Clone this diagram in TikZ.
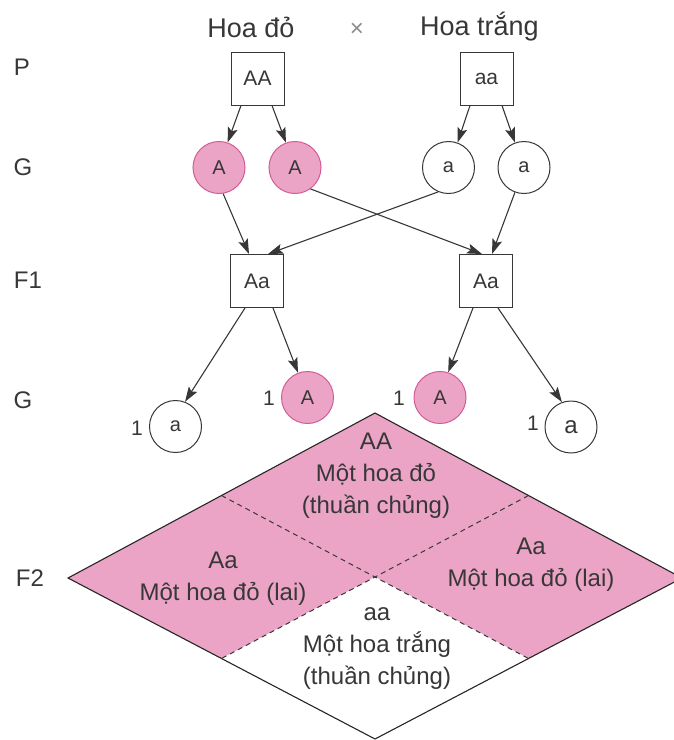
\documentclass[tikz,border=0pt]{standalone}
\usepackage{fontspec}
\setmainfont{Liberation Sans}
\usetikzlibrary{arrows.meta,calc}
\definecolor{pinkfill}{RGB}{236,164,198}
\definecolor{pinkline}{RGB}{212,92,150}
\definecolor{ink}{RGB}{55,55,55}
\begin{document}
\begin{tikzpicture}[x=1pt,y=-1pt,
  every node/.style={text=ink},
  genebox/.style={draw=ink,line width=1pt,minimum width=53pt,minimum height=53pt,inner sep=0pt,font=\fontsize{21}{24}\selectfont},
  pgam/.style={circle,draw=pinkline,fill=pinkfill,line width=1pt,minimum size=52pt,inner sep=0pt,font=\fontsize{20}{24}\selectfont},
  wgam/.style={circle,draw=ink,fill=white,line width=1pt,minimum size=52pt,inner sep=0pt,font=\fontsize{20}{24}\selectfont},
  rowlab/.style={font=\fontsize{24}{28}\selectfont},
  title/.style={font=\fontsize{27}{30}\selectfont},
  ratio/.style={font=\fontsize{21}{24}\selectfont},
  celltext/.style={align=center,font=\fontsize{24}{32}\selectfont},
  arr/.style={draw=ink,line width=1.1pt,-{Stealth[length=15pt,width=10pt,inset=3pt]}},
]
\useasboundingbox (0,0) rectangle (674,740);

% titles
\node[title] (t1) at (251,27) {Hoa đỏ};
\node[font=\fontsize{24}{26}\selectfont,text=black!45] (cross) at (357,30) {×};
\node[title] (t2) at (479.5,27) {Hoa trắng};

% row labels
\node[rowlab] (lP) at (22,67) {P};
\node[rowlab] (lG1) at (23,167) {G};
\node[rowlab] (lF1) at (28,280) {F1};
\node[rowlab] (lG2) at (23,400) {G};
\node[rowlab] (lF2) at (30,578) {F2};

% P
\node[genebox] (AA) at (257.5,78.5) {AA};
\node[genebox] (aa) at (486.5,78.5) {aa};

% G
\node[pgam] (A1) at (219,167.5) {A};
\node[pgam] (A2) at (295,167.5) {A};
\node[wgam] (a1) at (448.5,167.5) {a};
\node[wgam] (a2) at (524,167.5) {a};

% F1
\node[genebox] (F1L) at (257,281) {Aa};
\node[genebox] (F1R) at (486,281) {Aa};

% G (F1 gametes)
\node[wgam] (ga1) at (175.5,426.5) {a};
\node[pgam] (gA1) at (307.5,397.5) {A};
\node[pgam] (gA2) at (440,397.5) {A};
\node[wgam,font=\fontsize{24}{26}\selectfont] (ga2) at (571,427) {a};
\node[ratio] (n1) at (137,428) {1};
\node[ratio] (n2) at (269,398) {1};
\node[ratio] (n3) at (399,398) {1};
\node[ratio] (n4) at (533,423) {1};

% arrows P -> G
\draw[arr] ($(AA.south)+(-16.5,0)$) -- (A1.71);
\draw[arr] ($(AA.south)+(14.5,0)$) -- (A2.110);
\draw[arr] ($(aa.south)+(-16.5,0)$) -- (a1.70);
\draw[arr] ($(aa.south)+(15.5,0)$) -- (a2.110);

% arrows G -> F1
\draw[arr] (A1.279) -- ($(F1L.north)+(-8,0)$);
\draw[arr] (a1.247) -- ($(F1L.north)+(11,0)$);
\draw[arr] (A2.306) -- ($(F1R.north)+(-4,0)$);
\draw[arr] (a2.250) -- ($(F1R.north)+(6,0)$);

% arrows F1 -> G
\draw[arr] ($(F1L.south)+(-12,0)$) -- (ga1.69);
\draw[arr] ($(F1L.south)+(16,0)$) -- (gA1.111);
\draw[arr] ($(F1R.south)+(-13,0)$) -- (gA2.72);
\draw[arr] ($(F1R.south)+(12,0)$) -- (ga2.110);

% F2 diamond
\coordinate (L) at (68,578);
\coordinate (T) at (375,413);
\coordinate (R) at (682,578);
\coordinate (B) at (375,739);
\coordinate (C) at (375,577);
\coordinate (mLT) at ($(L)!0.5!(T)$);
\coordinate (mTR) at ($(T)!0.5!(R)$);
\coordinate (mRB) at ($(R)!0.5!(B)$);
\coordinate (mBL) at ($(B)!0.5!(L)$);
\fill[pinkfill] (L) -- (T) -- (R) -- (B) -- cycle;
\fill[white] (C) -- (mRB) -- (B) -- (mBL) -- cycle;
\draw[ink,line width=1pt,dash pattern=on 5pt off 4pt] (mLT) -- (mRB);
\draw[ink,line width=1pt,dash pattern=on 5pt off 4pt] (mTR) -- (mBL);
\draw[black!85,line width=1.1pt,line join=miter] (L) -- (T) -- (R) -- (B) -- cycle;

\node[celltext] (cAA) at (376,476) {AA\\Một hoa đỏ\\(thuần chủng)};
\node[celltext] (cAaL) at (223,579) {Aa\\Một hoa đỏ (lai)};
\node[celltext] (cAaR) at (531,565) {Aa\\Một hoa đỏ (lai)};
\node[celltext] (caa) at (377,649) {aa\\Một hoa trắng\\(thuần chủng)};
\end{tikzpicture}
\end{document}
